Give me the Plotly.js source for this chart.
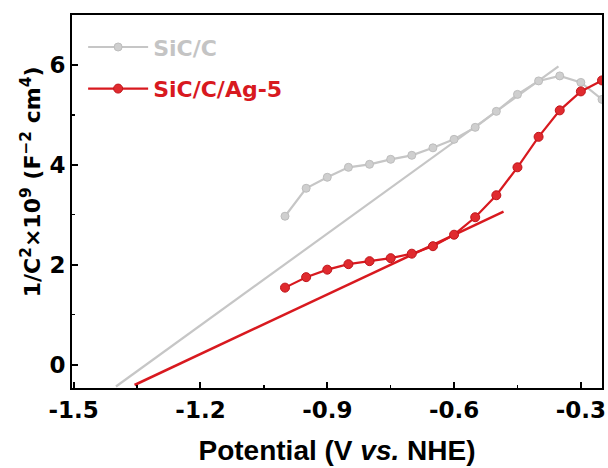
<!DOCTYPE html>
<html>
<head>
<meta charset="utf-8">
<script src="https://cdn.plot.ly/plotly-3.0.1.min.js"></script>
<style>html,body{margin:0;padding:0;background:#fff;}#chart{width:608px;height:468px;}</style>
</head>
<body>
<div id="chart"></div>
<script>
// Potential (V vs. NHE)
const potential = [-1.00, -0.95, -0.90, -0.85, -0.80, -0.75, -0.70, -0.65, -0.60, -0.55, -0.50, -0.45, -0.40, -0.35, -0.30, -0.25];
// 1/C^2 x 10^9
const sicC = [2.97, 3.53, 3.75, 3.95, 4.01, 4.11, 4.19, 4.34, 4.51, 4.75, 5.07, 5.41, 5.68, 5.78, 5.65, 5.31];
const sicCAg5 = [1.54, 1.75, 1.90, 2.01, 2.07, 2.13, 2.22, 2.37, 2.60, 2.95, 3.39, 3.95, 4.56, 5.09, 5.47, 5.69];
// Mott-Schottky linear fits (endpoints)
const fitSicCx = [-1.40, -0.353];
const fitSicCy = [-0.44, 5.97];
const fitAgx = [-1.356, -0.483];
const fitAgy = [-0.41, 3.06];
// Tick labels
const xTickVals = [-1.5, -1.2, -0.9, -0.6, -0.3];
const xTickText = ['-1.5', '-1.2', '-0.9', '-0.6', '-0.3'];
const yTickVals = [0, 2, 4, 6];
const yTickText = ['0', '2', '4', '6'];

const gray = '#c6c6c6';
const red = '#d8191f';
const font = 'DejaVu Sans, sans-serif';
const arial = 'Liberation Sans, Arial, sans-serif';

const traces = [
  {x: fitSicCx, y: fitSicCy, mode: 'lines', line: {color: gray, width: 2.2}, showlegend: false, hoverinfo: 'skip'},
  {x: fitAgx, y: fitAgy, mode: 'lines', line: {color: red, width: 2.5}, showlegend: false, hoverinfo: 'skip'},
  {x: potential, y: sicC, mode: 'lines+markers', name: '<span style="color:#c4c4c4">SiC/C</span>',
   legendgroup: 'a', line: {color: gray, width: 2.2}, marker: {color: '#cfcfcf', size: 8, line: {color: '#bdbdbd', width: 1}}},
  {x: potential, y: sicCAg5, mode: 'lines+markers', name: '<span style="color:#d8191f">SiC/C/Ag-5</span>',
   legendgroup: 'b', line: {color: red, width: 2.2}, marker: {color: '#e02a2e', size: 9, line: {color: '#c0141a', width: 1}}}
];

const layout = {
  width: 608, height: 468,
  margin: {l: 72, r: 6, t: 15, b: 80},
  paper_bgcolor: '#fff', plot_bgcolor: '#fff',
  font: {family: font, size: 23, color: '#000', weight: 'bold'},
  showlegend: true,
  legend: {x: 0.021, y: 0.97, xanchor: 'left', yanchor: 'top', bgcolor: 'rgba(0,0,0,0)',
           font: {family: font, size: 22, weight: 'bold'}, itemwidth: 60, tracegroupgap: 10},
  xaxis: {
    range: [-1.504, -0.25], showgrid: false, zeroline: false,
    showline: true, mirror: true, linecolor: '#000', linewidth: 2,
    ticks: 'inside', ticklen: 6, tickwidth: 2, tickcolor: '#000',
    tickmode: 'array', tickvals: xTickVals, ticktext: xTickText,
    tickfont: {family: font, size: 23, weight: 'bold'},
    minor: {ticks: 'inside', ticklen: 3, tickwidth: 1.5, tickcolor: '#000', dtick: 0.15, tick0: -1.5},
    title: {text: 'Potential (V <i>vs.</i> NHE)', font: {family: arial, size: 28, weight: 'bold'}, standoff: 19}
  },
  yaxis: {
    range: [-0.47, 7.0], showgrid: false, zeroline: false,
    showline: true, mirror: true, linecolor: '#000', linewidth: 2,
    ticks: 'inside', ticklen: 6, tickwidth: 2, tickcolor: '#000',
    tickmode: 'array', tickvals: yTickVals, ticktext: yTickText,
    tickfont: {family: font, size: 23, weight: 'bold'},
    minor: {ticks: 'inside', ticklen: 3, tickwidth: 1.5, tickcolor: '#000', dtick: 1, tick0: 0}
  },
  annotations: [{
    text: '1/C<sup>2</sup>×10<sup>9</sup> (F<sup>−2</sup> cm<sup>4</sup>)',
    xref: 'paper', yref: 'paper', x: -0.077, y: 0.552, xanchor: 'center', yanchor: 'middle',
    textangle: -90, showarrow: false, font: {family: font, size: 22, weight: 'bold', color: '#000'}
  }]
};

Plotly.newPlot('chart', traces, layout, {staticPlot: true, displayModeBar: false});
</script>
</body>
</html>
